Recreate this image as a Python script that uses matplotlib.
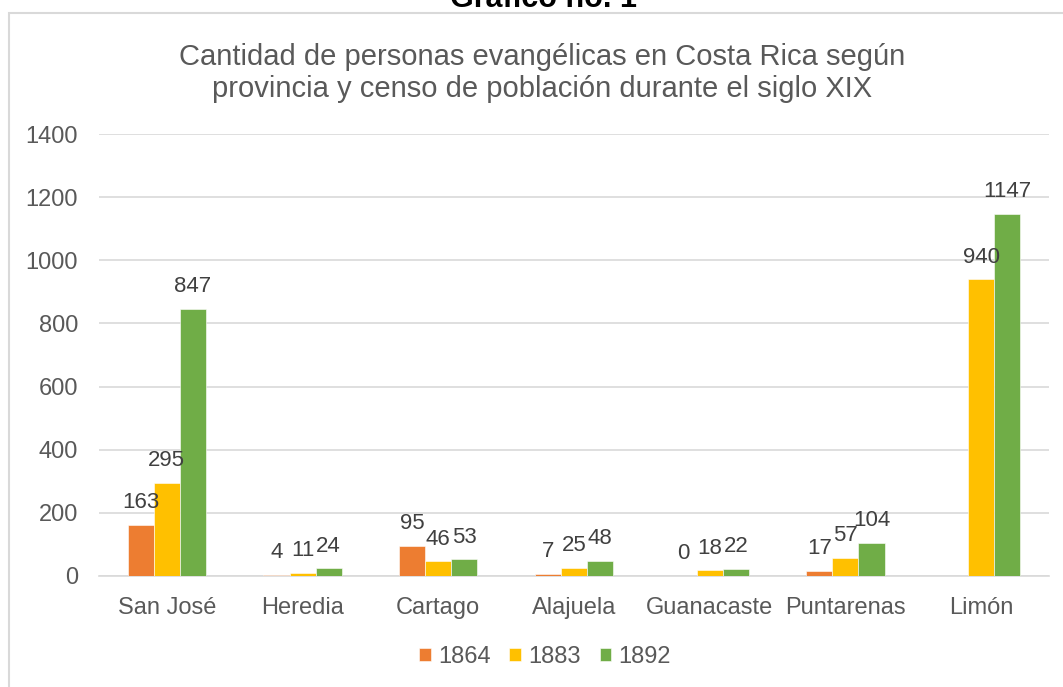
import numpy as np
import matplotlib
matplotlib.use("Agg")
import matplotlib.pyplot as plt
from matplotlib.patches import Rectangle

plt.rcParams['font.family'] = ['Liberation Sans', 'DejaVu Sans']

provincias = ["San José", "Heredia", "Cartago", "Alajuela", "Guanacaste", "Puntarenas", "Limón"]
series_names = ["1864", "1883", "1892"]
v1864 = [163, 4, 95, 7, 0, 17, np.nan]
v1883 = [295, 11, 46, 25, 18, 57, 940]
v1892 = [847, 24, 53, 48, 22, 104, 1147]
colores = ["#ED7D31", "#FFC000", "#70AD47"]
yticks = [0, 200, 400, 600, 800, 1000, 1200, 1400]

W, H = 1063, 687
fig = plt.figure(figsize=(W / 100, H / 100), dpi=100)

# chart border (extends beyond right/bottom of image)
fig.patches.append(Rectangle((9 / W, -0.1), 1.2, 1 - 13 / H + 0.1, transform=fig.transFigure,
                             fill=False, edgecolor="#D9D9D9", linewidth=1.5, zorder=0))

ax = fig.add_axes([99 / W, (H - 576) / H, 950 / W, 442 / H])
x = np.arange(len(provincias))
bw = 0.192
gray = "#595959"
for i, (vals, c, name) in enumerate(zip([v1864, v1883, v1892], colores, series_names)):
    pos = x + (i - 1) * bw
    ax.bar(pos, vals, width=bw, color=c, label=name, zorder=3, edgecolor="white", linewidth=0.4)
    for xp, v in zip(pos, vals):
        if not np.isnan(v):
            ax.annotate(f"{int(v)}", (xp, v), xytext=(0, 16), textcoords="offset points",
                        ha="center", va="center", fontsize=16, color="#404040", zorder=4)

ax.set_xlim(-0.5, len(provincias) - 0.5)
ax.set_ylim(0, 1400)
ax.set_yticks(yticks)
ax.set_yticklabels([str(t) for t in yticks], fontsize=17, color=gray)
ax.set_xticks(x)
ax.set_xticklabels(provincias, fontsize=17, color=gray)
ax.tick_params(axis="both", length=0)
ax.tick_params(axis="y", pad=15)
ax.tick_params(axis="x", pad=15)
ax.grid(axis="y", color="#D9D9D9", linewidth=1.2, zorder=0)
for s in ["top", "right", "left"]:
    ax.spines[s].set_visible(False)
ax.spines["bottom"].set_color("#D9D9D9")
ax.spines["bottom"].set_linewidth(1.2)

fig.text(542 / W, 1 - 73 / H, "Cantidad de personas evangélicas en Costa Rica según\nprovincia y censo de población durante el siglo XIX",
         ha="center", va="center", fontsize=21, color=gray, linespacing=1.18)
fig.text(543 / W, 1 - 7 / H, "Gráfico no. 1", ha="center", va="baseline",
         fontsize=22, fontweight="bold", color="black")

ax.legend(loc="center", bbox_to_anchor=(545 / W, 1 - 657 / H), bbox_transform=fig.transFigure,
          ncol=3, frameon=False, fontsize=17, handlelength=0.5, handleheight=0.5,
          handletextpad=0.3, columnspacing=0.8, labelcolor=gray, borderpad=0)

fig.savefig("out.png", dpi=100)
